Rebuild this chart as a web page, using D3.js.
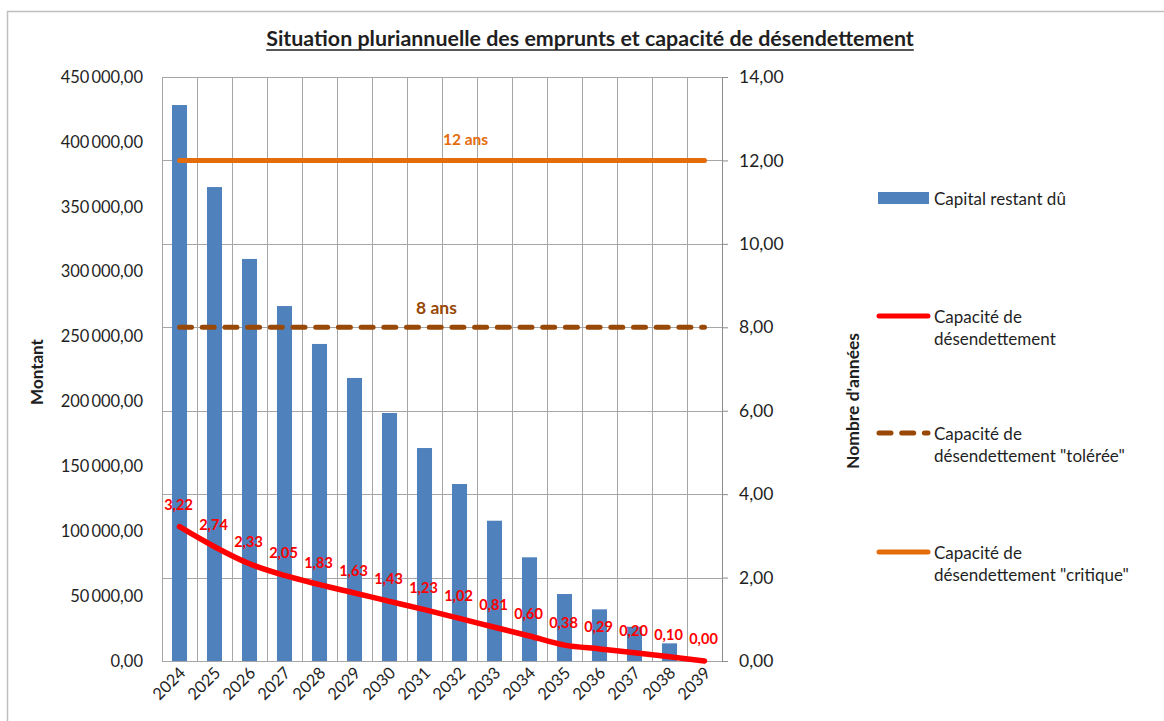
<!DOCTYPE html>
<html>
<head>
<meta charset="utf-8">
<script src="https://cdn.jsdelivr.net/npm/d3@7"></script>
<style>
  html, body { margin: 0; padding: 0; background: #fff; }
  svg { display: block; font-family: Lato, "Open Sans", sans-serif; }
</style>
</head>
<body>
<svg id="chart" width="1164" height="721"></svg>
<script>
// ---- Data ----
const years = ["2024","2025","2026","2027","2028","2029","2030","2031","2032","2033","2034","2035","2036","2037","2038","2039"];
const capitalRestantDu = [428400, 365200, 309800, 273500, 244300, 218100, 191100, 164100, 136400, 108100, 79900, 51600, 39800, 26400, 13600, 0];
const capaciteDesendettement = [3.22, 2.74, 2.33, 2.05, 1.83, 1.63, 1.43, 1.23, 1.02, 0.81, 0.60, 0.38, 0.29, 0.20, 0.10, 0.00];
const seuilToleree = [8, 8, 8, 8, 8, 8, 8, 8, 8, 8, 8, 8, 8, 8, 8, 8];
const seuilCritique = [12, 12, 12, 12, 12, 12, 12, 12, 12, 12, 12, 12, 12, 12, 12, 12];
const leftTicks = [0, 50000, 100000, 150000, 200000, 250000, 300000, 350000, 400000, 450000];
const rightTicks = [0, 2, 4, 6, 8, 10, 12, 14];
const seriesNames = ["Capital restant dû", "Capacité de désendettement", "Capacité de désendettement \"tolérée\"", "Capacité de désendettement \"critique\""];
const titleText = "Situation pluriannuelle des emprunts et capacité de désendettement";
const labelCritique = "12 ans";
const labelToleree = "8 ans";

// ---- Layout ----
const X0 = 162, X1 = 722, Y0 = 77, Y1 = 661;
const colBar = "#4F81BD", colRed = "#FF0000", colBrown = "#984807", colOrange = "#E46C0A", colGrid = "#A6A6A6", colText = "#1F1F1F";

const fr = d3.formatLocale({decimal: ",", thousands: "\u2009", grouping: [3], currency: ["", "€"]});
const fmt2 = fr.format(",.2f");

const svg = d3.select("#chart");

// outer chart border
svg.append("rect").attr("x", 7.5).attr("y", 11.5).attr("width", 1200).attr("height", 800)
  .attr("fill", "none").attr("stroke", "#BFBFBF").attr("stroke-width", 1.5);

const x = d3.scaleBand().domain(years).range([X0, X1]).paddingInner(0).paddingOuter(0);
const yL = d3.scaleLinear().domain([0, 450000]).range([Y1, Y0]);
const yR = d3.scaleLinear().domain([0, 14]).range([Y1, Y0]);

// title
const title = svg.append("text").attr("x", 590).attr("y", 46).attr("text-anchor", "middle")
  .attr("font-weight", "bold").attr("font-size", 18).attr("fill", colText).text(titleText);
let tw = title.node().getComputedTextLength();
title.attr("font-size", 18 * 648 / tw);
tw = title.node().getComputedTextLength();
svg.append("line").attr("x1", 590 - tw / 2).attr("x2", 590 + tw / 2).attr("y1", 50).attr("y2", 50)
  .attr("stroke", colText).attr("stroke-width", 1.3);

// gridlines
const grid = svg.append("g");
grid.selectAll("line.h").data(rightTicks.filter(t => t > 0 && t < 14)).join("line")
  .attr("x1", X0).attr("x2", X1).attr("y1", d => Math.round(yR(d)) + 0.5).attr("y2", d => Math.round(yR(d)) + 0.5)
  .attr("stroke", colGrid).attr("stroke-width", 1);
grid.selectAll("line.v").data(years.slice(1)).join("line")
  .attr("x1", d => Math.round(x(d)) + 0.5).attr("x2", d => Math.round(x(d)) + 0.5).attr("y1", Y0).attr("y2", Y1)
  .attr("stroke", colGrid).attr("stroke-width", 1);
// plot border
svg.append("rect").attr("x", X0 + 0.5).attr("y", Y0 + 0.5).attr("width", X1 - X0).attr("height", Y1 - Y0)
  .attr("fill", "none").attr("stroke", colGrid).attr("stroke-width", 1);

// bars
const bw = x.bandwidth() * 0.43;
svg.append("g").selectAll("rect").data(years).join("rect")
  .attr("x", d => x(d) + (x.bandwidth() - bw) / 2)
  .attr("width", bw)
  .attr("y", (d, i) => yL(capitalRestantDu[i]))
  .attr("height", (d, i) => Y1 - yL(capitalRestantDu[i]))
  .attr("fill", colBar);

// left axis
const gL = svg.append("g").attr("transform", `translate(${X0},0)`)
  .call(d3.axisLeft(yL).tickValues(leftTicks).tickSize(0).tickPadding(19).tickFormat(fmt2));
gL.select(".domain").remove();
gL.selectAll("text").attr("font-size", 16.5).attr("fill", colText).attr("font-family", "Lato, sans-serif");

// right axis
const gR = svg.append("g").attr("transform", `translate(${X1},0)`)
  .call(d3.axisRight(yR).tickValues(rightTicks).tickSize(6).tickPadding(11).tickFormat(fmt2));
gR.select(".domain").attr("stroke", "#8C8C8C");
gR.selectAll(".tick line").attr("stroke", "#8C8C8C");
gR.selectAll("text").attr("font-size", 17.5).attr("fill", colText).attr("font-family", "Lato, sans-serif");

// bottom axis labels
const gB = svg.append("g").attr("transform", `translate(0,${Y1})`)
  .call(d3.axisBottom(x).tickSize(0).tickPadding(0));
gB.select(".domain").remove();
gB.selectAll("text")
  .attr("font-size", 16.5).attr("fill", colText).attr("font-family", "Lato, sans-serif")
  .attr("text-anchor", "end").attr("dy", 0)
  .attr("transform", "translate(7,13) rotate(-45)");

// axis titles
svg.append("text").attr("transform", "translate(43,372) rotate(-90)").attr("text-anchor", "middle")
  .attr("font-weight", "bold").attr("font-size", 17).attr("fill", colText).text("Montant");
svg.append("text").attr("transform", "translate(859,401) rotate(-90)").attr("text-anchor", "middle")
  .attr("font-weight", "bold").attr("font-size", 17.5).attr("fill", colText).text("Nombre d'années");

// threshold lines
const cx = d => x(d) + x.bandwidth() / 2;
const lineR = arr => d3.line().x((d, i) => cx(years[i])).y(d => yR(d))(arr);
svg.append("path").attr("d", lineR(seuilCritique)).attr("fill", "none")
  .attr("stroke", colOrange).attr("stroke-width", 5).attr("stroke-linecap", "round");
svg.append("path").attr("d", lineR(seuilToleree)).attr("fill", "none")
  .attr("stroke", colBrown).attr("stroke-width", 5).attr("stroke-linecap", "round")
  .attr("stroke-dasharray", "12,10.7");

svg.append("text").attr("x", cx("2032") + 6).attr("y", yR(12) - 15).attr("text-anchor", "middle")
  .attr("font-weight", "bold").attr("font-size", 15.5).attr("fill", colOrange).text(labelCritique);
svg.append("text").attr("x", cx("2031") + 12).attr("y", yR(8) - 13).attr("text-anchor", "middle")
  .attr("font-weight", "bold").attr("font-size", 17.5).attr("fill", colBrown).text(labelToleree);

// capacity line
const capLine = d3.line().curve(d3.curveCatmullRom.alpha(0.5))
  .x((d, i) => cx(years[i])).y(d => yR(d));
svg.append("path").attr("d", capLine(capaciteDesendettement)).attr("fill", "none")
  .attr("stroke", colRed).attr("stroke-width", 5.5).attr("stroke-linecap", "round").attr("stroke-linejoin", "round");

// data labels
svg.append("g").selectAll("text").data(capaciteDesendettement).join("text")
  .attr("x", (d, i) => cx(years[i]) - 1)
  .attr("y", d => yR(d) - 17)
  .attr("text-anchor", "middle").attr("font-weight", "bold").attr("font-size", 14.5)
  .attr("fill", colRed).text(d => fmt2(d));

// legend
const LX0 = 878, LX1 = 929, LT = 934;
const leg = svg.append("g").attr("font-size", 17).attr("fill", colText);
leg.append("rect").attr("x", LX0).attr("y", 192).attr("width", LX1 - LX0).attr("height", 12).attr("fill", colBar);
leg.append("text").attr("x", LT).attr("y", 205).text(seriesNames[0]);

const legItems = [
  {y: 316, color: colRed, dash: null, lines: ["Capacité de", "désendettement"]},
  {y: 433, color: colBrown, dash: "12,10.7", lines: ["Capacité de", "désendettement \"tolérée\""]},
  {y: 552, color: colOrange, dash: null, lines: ["Capacité de", "désendettement \"critique\""]}
];
legItems.forEach(it => {
  leg.append("line").attr("x1", LX0 + 1).attr("x2", LX1 - 1).attr("y1", it.y).attr("y2", it.y)
    .attr("stroke", it.color).attr("stroke-width", 5).attr("stroke-linecap", "round")
    .attr("stroke-dasharray", it.dash);
  it.lines.forEach((t, k) => {
    leg.append("text").attr("x", LT).attr("y", it.y + 7 + k * 22).text(t);
  });
});
</script>
</body>
</html>
